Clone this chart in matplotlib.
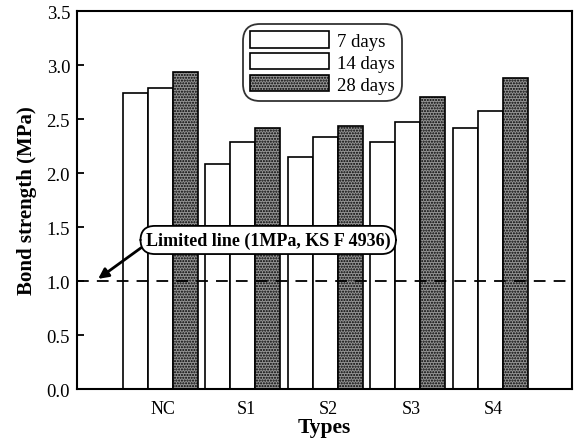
import matplotlib
matplotlib.use("Agg")
import matplotlib.pyplot as plt
import numpy as np

categories = ["NC", "S1", "S2", "S3", "S4"]
days_7 = [2.74, 2.08, 2.15, 2.29, 2.42]
days_14 = [2.79, 2.29, 2.33, 2.47, 2.57]
days_28 = [2.94, 2.42, 2.44, 2.70, 2.88]
series_labels = ["7 days", "14 days", "28 days"]
limit_value = 1.0
limit_label = "Limited line (1MPa, KS F 4936)"

plt.rcParams['font.family'] = ['Liberation Serif', 'DejaVu Serif']
plt.rcParams['hatch.color'] = '#444444'
plt.rcParams['hatch.linewidth'] = 1.0

fig = plt.figure(figsize=(5.76, 4.39), dpi=100)
ax = fig.add_axes([0.1337, 0.1116, 0.8594, 0.861])

x = np.arange(len(categories))
w = 0.303
ax.bar(x - w, days_7, w, color='white', edgecolor='black', linewidth=1.2, label=series_labels[0])
ax.bar(x, days_14, w, color='white', edgecolor='black', linewidth=1.2, label=series_labels[1])
ax.bar(x + w, days_28, w, color='#949494', edgecolor='black', linewidth=1.2,
       hatch='......', label=series_labels[2])

ax.axhline(limit_value, color='black', linestyle=(0, (6.5, 4.5)), linewidth=1.3, zorder=3)

ax.set_xlim(-1.006, 4.99)
ax.set_ylim(0, 3.5)
yt = np.arange(0, 3.51, 0.5)
ax.set_yticks(yt)
ax.set_yticklabels([f"{v:.1f}" for v in yt], fontsize=13.5)
ax.set_xticks(x + 0.04)
ax.set_xticklabels(categories, fontsize=13)
ax.tick_params(axis='x', length=0, pad=8)
ax.tick_params(axis='y', direction='in', length=5, width=1.3, pad=5)
for s in ax.spines.values():
    s.set_linewidth(1.5)

ax.set_ylabel("Bond strength (MPa)", fontsize=15, fontweight='bold', labelpad=7)
ax.set_xlabel("Types", fontsize=15.5, fontweight='bold', labelpad=0)

leg = ax.legend(loc='upper left', bbox_to_anchor=(0.335, 0.966), borderaxespad=0,
                fontsize=13.5, handlelength=4.2, handleheight=0.95, handletextpad=0.4,
                labelspacing=0.18, borderpad=0.4, frameon=True, fancybox=True)
leg.get_frame().set_edgecolor('black')
leg.get_frame().set_linewidth(1.3)
leg.get_frame().set_boxstyle('round,pad=0,rounding_size=0.9')

ax.annotate(limit_label, xy=(-0.75, limit_value + 0.02), xytext=(1.31, 1.38),
            fontsize=13, fontweight='bold', ha='center', va='center',
            bbox=dict(boxstyle='round,pad=0.3,rounding_size=0.8', fc='white', ec='black', lw=1.3),
            arrowprops=dict(arrowstyle='-|>', color='black', lw=2.0, mutation_scale=15,
                            shrinkA=0, shrinkB=0, relpos=(0.0, 0.25)), zorder=5)

fig.savefig("out.png", dpi=100)
